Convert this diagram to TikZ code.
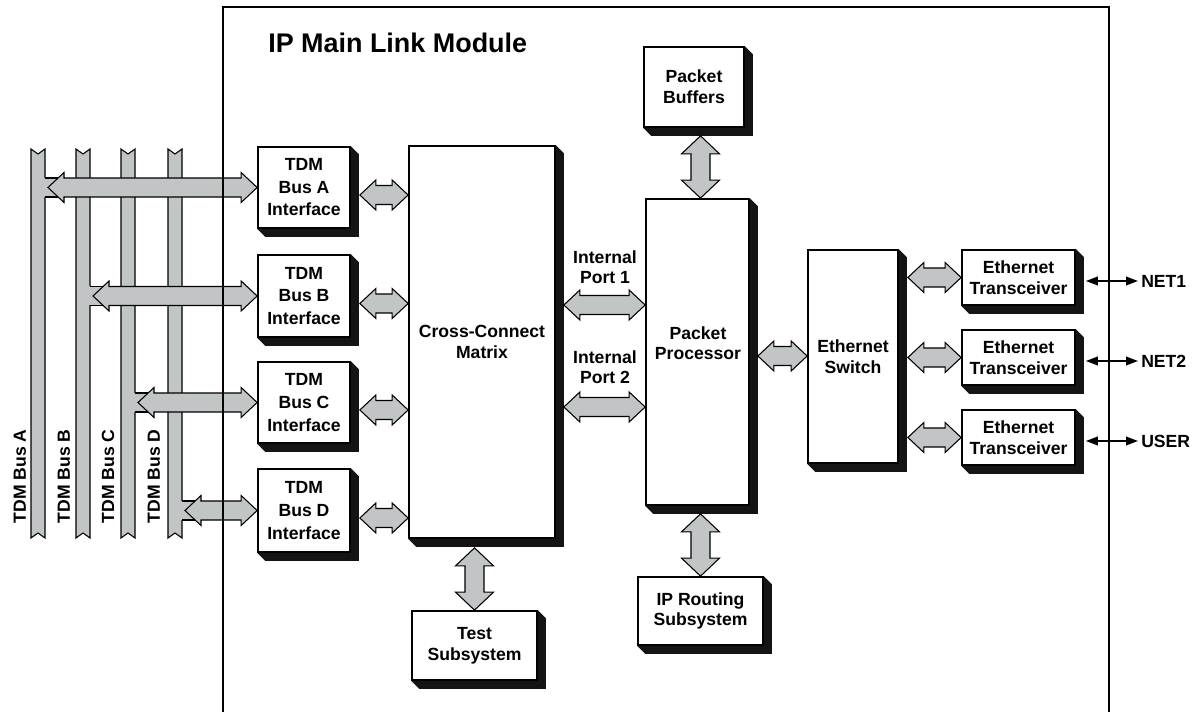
\documentclass[tikz,border=0pt]{standalone}
\usepackage{fontspec}
\setmainfont{Liberation Sans}
\usetikzlibrary{calc,arrows.meta,backgrounds}
\definecolor{busgray}{RGB}{193,197,197}
\definecolor{shadowblk}{RGB}{20,20,20}
\tikzset{
  blk/.style={draw=black, fill=white, line width=1.3pt, align=center, inner sep=0pt,
    font=\bfseries\fontsize{13.2}{15.6}\selectfont},
  tdmtext/.style={font=\bfseries\fontsize{13.2}{16.9}\selectfont},
  fat/.style={draw=black, fill=busgray, line width=0.8pt, line join=miter},
  lbl/.style={font=\bfseries\fontsize{13.2}{15.2}\selectfont, align=center, inner sep=0pt},
  busbar/.style={draw=black, fill=busgray, line width=0.8pt},
  wall/.style={line width=1.5pt},
  netarrow/.style={line width=1.1pt, {Triangle[length=9pt,width=6.5pt]}-{Triangle[length=9pt,width=6.5pt]}},
}
% box with chamfered drop shadow
\newcommand\blk[7][]{%
  \node[blk,#1, minimum width={(#5-#3)*0.75pt}, minimum height={(#6-#4)*0.75pt}] (#2) at ({(#3+#5)/2},{(#4+#6)/2}) {#7};
  \fill[shadowblk] (#2.north east) -- ++(8,8) -- ([shift={(8,8)}]#2.south east) -- ([shift={(8,8)}]#2.south west) -- (#2.south west) -- (#2.south east) -- cycle;
}
% horizontal fat double arrow: y from #1, x from #1 and #2
\newcommand\hfat[2]{%
  \filldraw[fat] let \p1=(#1), \p2=(#2) in
   (\x1,\y1) -- ([shift={(16,-15)}]\x1,\y1) -- ([shift={(16,-9.5)}]\x1,\y1)
   -- ([shift={(-16,-9.5)}]\x2,\y1) -- ([shift={(-16,-15)}]\x2,\y1) -- (\x2,\y1)
   -- ([shift={(-16,15)}]\x2,\y1) -- ([shift={(-16,9.5)}]\x2,\y1)
   -- ([shift={(16,9.5)}]\x1,\y1) -- ([shift={(16,15)}]\x1,\y1) -- cycle;
}
% vertical fat double arrow: top y from #1, x and bottom y from #2
\newcommand\vfat[2]{%
  \filldraw[fat] let \p1=(#1), \p2=(#2) in
   (\x2,\y1) -- ([shift={(19,18)}]\x2,\y1) -- ([shift={(9.5,18)}]\x2,\y1)
   -- ([shift={(9.5,-18)}]\x2,\y2) -- ([shift={(19,-18)}]\x2,\y2) -- (\x2,\y2)
   -- ([shift={(-19,-18)}]\x2,\y2) -- ([shift={(-9.5,-18)}]\x2,\y2)
   -- ([shift={(-9.5,18)}]\x2,\y1) -- ([shift={(-19,18)}]\x2,\y1) -- cycle;
}
% bus bar with notched ends
\newcommand\busbar[2]{%
  \filldraw[busbar] (#1,149) -- ({(#1+#2)/2},154) -- (#2,149) -- (#2,538) -- ({(#1+#2)/2},533) -- (#1,538) -- cycle;
}
% branch from a bus (coordinate #1 on its right edge) to node #2
\newcommand\busarrow[2]{%
  \fill[busgray] let \p1=(#1) in ([shift={(-1.2,-9.5)}]\x1,\y1) rectangle ([shift={(20,9.5)}]\x1,\y1);
  \draw[line width=0.8pt] let \p1=(#1) in ([shift={(0,-9.5)}]\x1,\y1) -- ++(20,0) ([shift={(0,9.5)}]\x1,\y1) -- ++(20,0);
  \hfat{[shift={(3,0)}]#1}{#2.west}
}
\begin{document}
\begin{tikzpicture}[x=0.75pt, y=-0.75pt]
\useasboundingbox (0,0) rectangle (1199,712);

% title
\node[font=\bfseries\fontsize{20.2}{24}\selectfont, anchor=base west, inner sep=0pt] (title) at (268,53) {IP Main Link Module};

% blocks
\blk[tdmtext]{ifA}{258}{147}{350}{228}{TDM\\Bus A\\Interface}
\blk[tdmtext]{ifB}{258}{255}{350}{337}{TDM\\Bus B\\Interface}
\blk[tdmtext]{ifC}{258}{362}{350}{443}{TDM\\Bus C\\Interface}
\blk[tdmtext]{ifD}{258}{469}{350}{552}{TDM\\Bus D\\Interface}
\blk{ccm}{409}{146}{555}{538}{Cross-Connect\\Matrix}
\blk{ts}{412}{611}{537}{680}{Test\\Subsystem}
\blk{pb}{644}{47}{744}{127}{Packet\\Buffers}
\blk{pp}{646}{199}{749}{505}{}
\node[lbl] (pptext) at (698,343) {Packet\\Processor};
\blk{ipr}{638}{577}{763}{645}{IP Routing\\Subsystem}
\blk{sw}{808}{250}{898}{463}{Ethernet\\Switch}
\blk{et1}{962}{250}{1075}{305}{Ethernet\\Transceiver}
\blk{et2}{962}{330}{1075}{385}{Ethernet\\Transceiver}
\blk{et3}{962}{410}{1075}{465}{Ethernet\\Transceiver}

% bus labels
\node[lbl, rotate=90] (labA) at (20,476.5) {TDM Bus A};
\node[lbl, rotate=90] (labB) at (64,476.5) {TDM Bus B};
\node[lbl, rotate=90] (labC) at (108,476.5) {TDM Bus C};
\node[lbl, rotate=90] (labD) at (154,476.5) {TDM Bus D};

% internal port labels
\node[lbl] (ip1) at (605,267) {Internal\\Port 1};
\node[lbl] (ip2) at (605,367) {Internal\\Port 2};

% network labels
\node[lbl, anchor=west] (net1) at (1141,281) {NET1};
\node[lbl, anchor=west] (net2) at (1141,361) {NET2};
\node[lbl, anchor=west] (user) at (1141,441) {USER};

% bus branch points
\coordinate (busA) at (45,187.5);
\coordinate (busB) at (90,296);
\coordinate (busC) at (135,402.5);
\coordinate (busD) at (182,510.5);

\begin{scope}[on background layer]
  \busbar{31}{45}
  \busbar{76}{90}
  \busbar{121}{135}
  \busbar{168}{182}
  \busarrow{busA}{ifA}
  \busarrow{busB}{ifB}
  \busarrow{busC}{ifC}
  \busarrow{busD}{ifD}
  \draw[wall] (222.5,712) -- (222.5,7.5) -- (1108.5,7.5) -- (1108.5,712);
\end{scope}

% interface <-> cross-connect
\hfat{[shift={(9,7.5)}]ifA.east}{ccm.west}
\hfat{[shift={(9,7.5)}]ifB.east}{ccm.west}
\hfat{[shift={(9,7.5)}]ifC.east}{ccm.west}
\hfat{[shift={(9,7.5)}]ifD.east}{ccm.west}

% cross-connect <-> processor
\hfat{$(ccm.east)+(8,-37)$}{pp.west}
\hfat{$(ccm.east)+(8,65)$}{pp.west}

% processor <-> switch
\hfat{$(pp.east)+(8,4)$}{sw.west}

% switch <-> transceivers
\hfat{$(sw.east|-et1.west)+(9,0)$}{et1.west}
\hfat{$(sw.east|-et2.west)+(9,0)$}{et2.west}
\hfat{$(sw.east|-et3.west)+(9,0)$}{et3.west}

% vertical links
\vfat{[shift={(0,8)}]pb.south}{[shift={(3,0)}]pp.north}
\vfat{[shift={(0,8)}]pp.south}{ipr.north}
\vfat{[shift={(0,9)}]ccm.south}{ts.north}

% external lines
\draw[netarrow] ($(et1.east)+(10,3.5)$) -- ([shift={(-3,0)}]net1.west);
\draw[netarrow] ($(et2.east)+(10,3.5)$) -- ([shift={(-3,0)}]net2.west);
\draw[netarrow] ($(et3.east)+(10,3.5)$) -- ([shift={(-3,0)}]user.west);
\end{tikzpicture}
\end{document}
